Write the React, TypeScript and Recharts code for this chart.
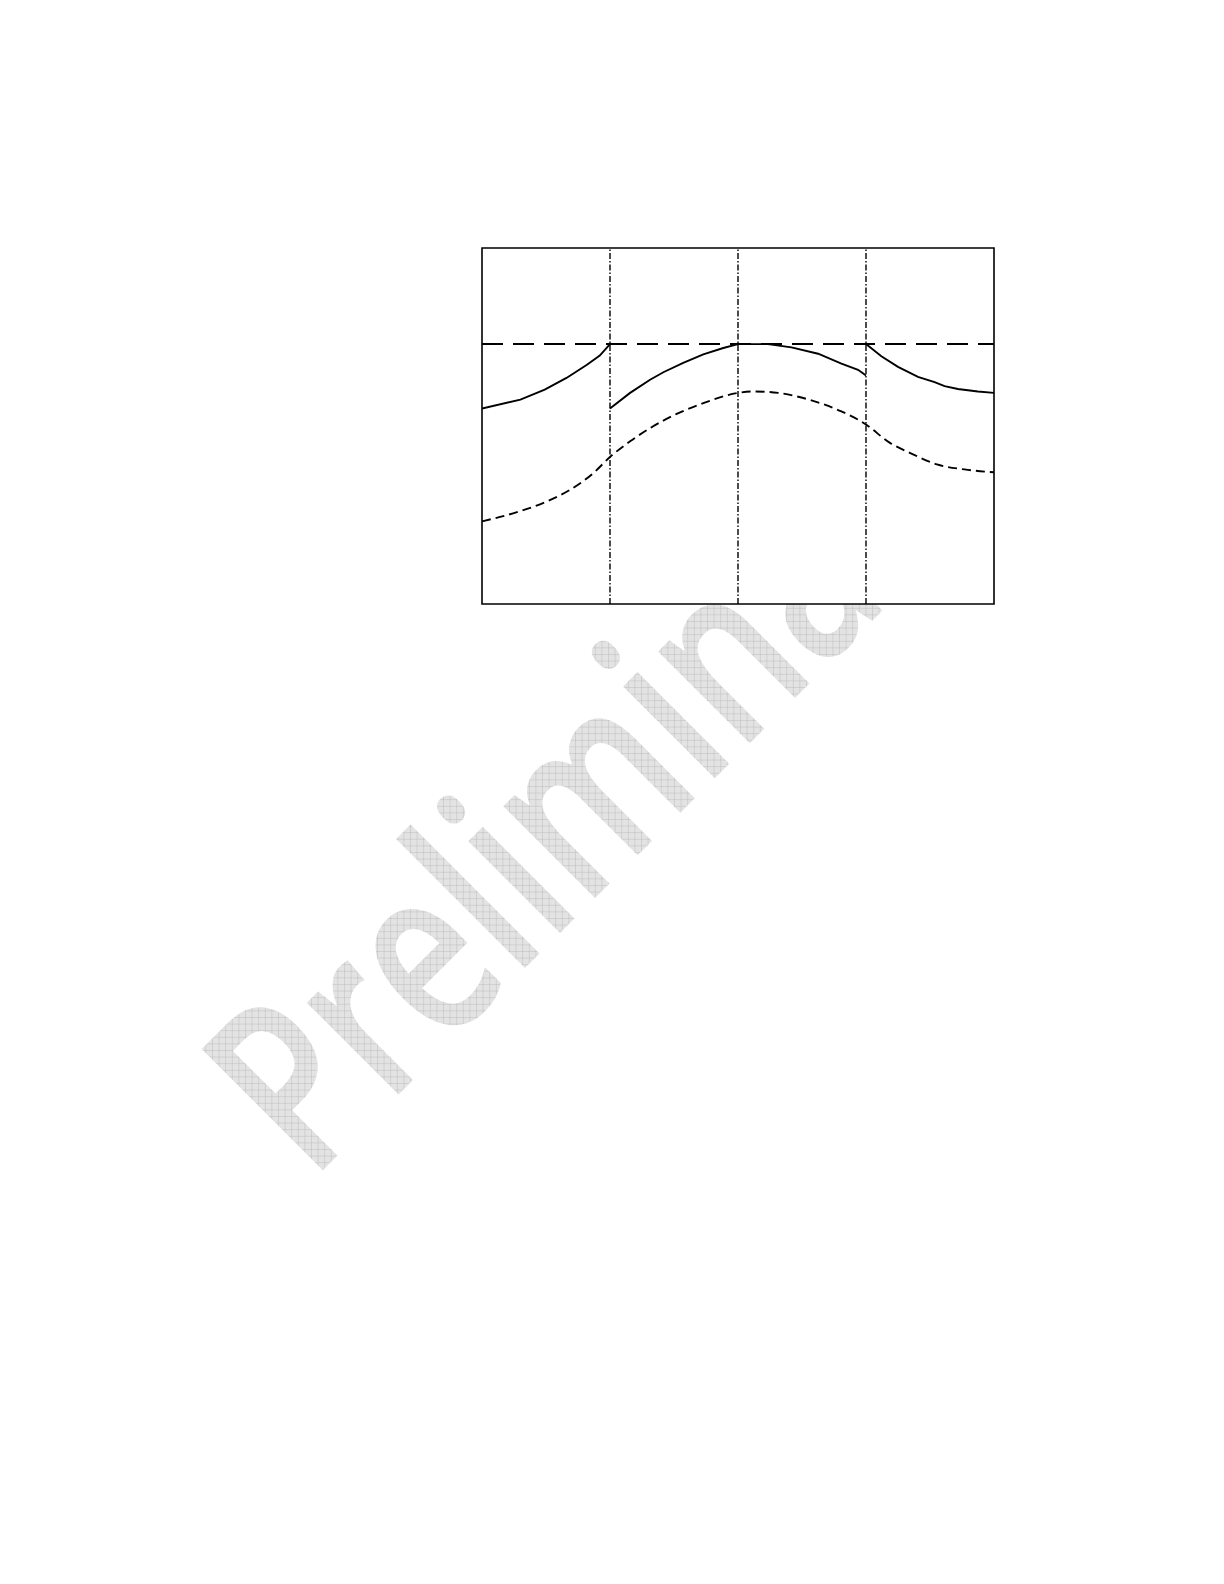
import React from "react";
import {
  LineChart,
  Line,
  XAxis,
  YAxis,
  CartesianGrid,
  ReferenceLine,
  ReferenceArea,
} from "recharts";

// x runs over four equal zones (0..4), y is in % of the plot height
const solidPart1: [number, number][] = [
  [0, 54.9], [0.3, 57.4], [0.49, 60.2], [0.66, 63.5], [0.82, 67.2], [0.92, 69.8], [1, 73],
];
const solidPart2: [number, number][] = [
  [1, 54.9], [1.157, 59.3], [1.313, 63.0], [1.417, 65.1], [1.572, 67.7], [1.729, 70.1], [1.885, 71.9], [2, 73],
];
const solidPart3: [number, number][] = [
  [2, 73], [2.234, 73], [2.418, 72.1], [2.626, 70.3], [2.808, 67.5], [2.938, 65.8], [3, 64.2],
];
const solidPart4: [number, number][] = [
  [3, 73], [3.12, 69.6], [3.25, 66.6], [3.406, 63.8], [3.536, 62.3], [3.614, 61.2], [3.718, 60.4], [3.874, 59.7], [4, 59.3],
];
const dashedCurve: [number, number][] = [
  [0, 23.2], [0.273, 25.8], [0.507, 28.8], [0.689, 32.1], [0.871, 36.8], [1, 41.3],
  [1.157, 45.7], [1.313, 49.4], [1.521, 53.4], [1.729, 56.4], [2, 59.3],
  [2.132, 59.7], [2.314, 59.3], [2.574, 57.2], [2.808, 54.1], [2.938, 51.8], [3, 50.4],
  [3.19, 45.2], [3.346, 42.4], [3.554, 39.2], [3.77, 37.8], [4, 37.0],
];
const limitLevel = 73;
const zoneBounds = [1, 2, 3];
const xDomain: [number, number] = [0, 4];
const yDomain: [number, number] = [0, 100];
const watermarkText = "Preliminary";

const toRows = (pts: [number, number][]) => pts.map(([x, y]) => ({ x, y }));

function Watermark() {
  return (
    <svg
      width={1224}
      height={1584}
      style={{ position: "absolute", left: 0, top: 0, pointerEvents: "none" }}
    >
      <defs>
        <pattern
          id="wmGrid"
          patternUnits="userSpaceOnUse"
          width={6.6}
          height={6.6}
          patternTransform="scale(1.3514,1) rotate(45)"
        >
          <rect width={6.6} height={6.6} fill="#e3e3e3" />
          <path d="M0 0 H6.6 M0 0 V6.6" stroke="#b4b4b4" strokeWidth={0.8} />
        </pattern>
      </defs>
      <g transform="translate(311,1182) rotate(-45) scale(0.74,1)">
        <text
          x={0}
          y={0}
          fontFamily="'Open Sans', 'Liberation Sans', sans-serif"
          fontWeight={600}
          fontSize={240}
          fill="url(#wmGrid)"
        >
          {watermarkText}
        </text>
      </g>
    </svg>
  );
}

export default function App() {
  return (
    <div style={{ position: "absolute", left: 0, top: 0, width: 1224, height: 1584, background: "#fff" }}>
      <Watermark />
      {/* white figure box hides the watermark behind the chart */}
      <div style={{ position: "absolute", left: 400, top: 150, width: 700, height: 454, background: "#fff" }}>
        <LineChart width={700} height={458} margin={{ top: 98, right: 106, bottom: 4, left: 82 }}>
          <CartesianGrid horizontal={false} vertical={false} fill="#fff" fillOpacity={1} />
          <XAxis dataKey="x" type="number" domain={xDomain} hide allowDataOverflow />
          <YAxis type="number" domain={yDomain} hide allowDataOverflow />
          <ReferenceArea x1={xDomain[0]} x2={xDomain[1]} y1={yDomain[0]} y2={yDomain[1]} fill="none" stroke="#000" strokeWidth={1.6} />
          {zoneBounds.map((b) => (
            <ReferenceLine key={b} x={b} stroke="#000" strokeWidth={1.4} strokeDasharray="6 2 1.5 2" />
          ))}
          <ReferenceLine y={limitLevel} stroke="#000" strokeWidth={2} strokeDasharray="21 10" />
          {[solidPart1, solidPart2, solidPart3, solidPart4].map((part, i) => (
            <Line
              key={i}
              data={toRows(part)}
              dataKey="y"
              type="linear"
              stroke="#000"
              strokeWidth={1.9}
              dot={false}
              activeDot={false}
              isAnimationActive={false}
            />
          ))}
          <Line
            data={toRows(dashedCurve)}
            dataKey="y"
            type="monotone"
            stroke="#000"
            strokeWidth={1.9}
            strokeDasharray="9 5"
            dot={false}
            activeDot={false}
            isAnimationActive={false}
          />
        </LineChart>
      </div>
    </div>
  );
}
